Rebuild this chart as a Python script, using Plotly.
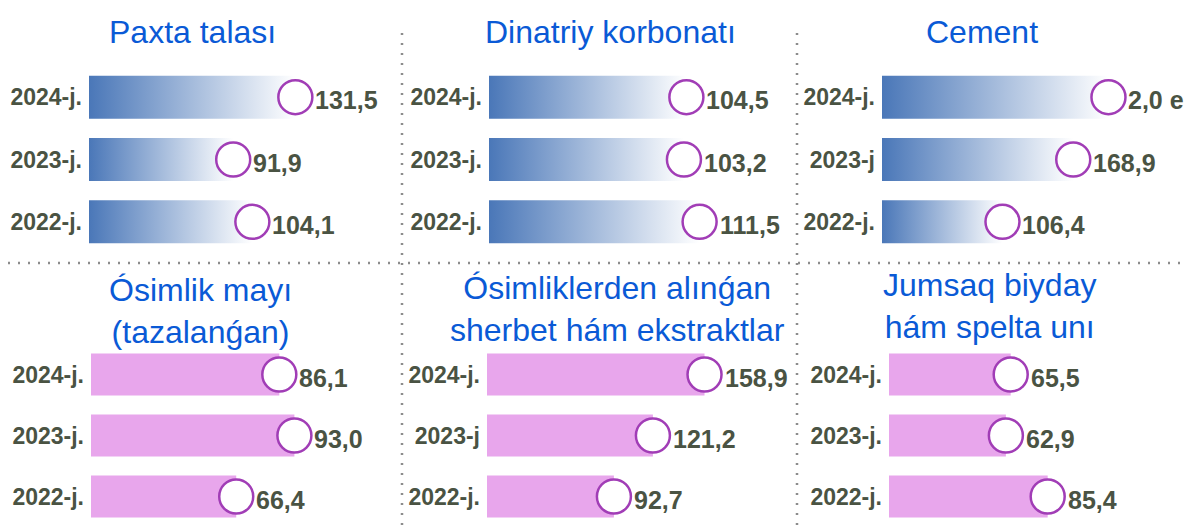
import plotly.graph_objects as go

# ---------------- data ----------------
titles = [
    "Paxta talası",
    "Dinatriy korbonatı",
    "Cement",
    "Ósimlik mayı<br>(tazalanǵan)",
    "Ósimliklerden alınǵan<br>sherbet hám ekstraktlar",
    "Jumsaq biyday<br>hám spelta unı",
]
year_labels = [
    ["2024-j.", "2023-j.", "2022-j."],
    ["2024-j.", "2023-j.", "2022-j."],
    ["2024-j.", "2023-j", "2022-j."],
    ["2024-j.", "2023-j.", "2022-j."],
    ["2024-j.", "2023-j", "2022-j."],
    ["2024-j.", "2023-j.", "2022-j."],
]
paxta = [131.5, 91.9, 104.1]
dinatriy = [104.5, 103.2, 111.5]
cement = [200.0, 168.9, 106.4]
osimlik_mayi = [86.1, 93.0, 66.4]
sherbet = [158.9, 121.2, 92.7]
un = [65.5, 62.9, 85.4]
cement_labels = ["2,0 e", "168,9", "106,4"]

values = [paxta, dinatriy, cement, osimlik_mayi, sherbet, un]


def fmt(v):
    return f"{v:.1f}".replace(".", ",")


value_labels = [
    [fmt(v) for v in paxta],
    [fmt(v) for v in dinatriy],
    cement_labels,
    [fmt(v) for v in osimlik_mayi],
    [fmt(v) for v in sherbet],
    [fmt(v) for v in un],
]

# ---------------- style / layout ----------------
W, H = 1195, 527
OFF = 8  # page body margin offset
BLUE_START = "#4a77b8"
PINK = "#e8a6ec"
CIRCLE = "#a13db6"
TXT = "#4a5343"
TITLE = "#0a5ad6"
BOLD = "Liberation Sans, Arial, sans-serif"
SANS = "Liberation Sans, Arial, sans-serif"


def px(x):
    return (x - OFF) / W


def py(y):
    return 1 - (y - OFF) / H


# pixel layout of each panel (reference coords): (x_left, x_right, y_top, y_bottom)
panel_px = [
    (89, 395, 66, 253),
    (489, 795, 66, 253),
    (882, 1190, 66, 253),
    (91, 395, 344, 527),
    (487, 795, 344, 527),
    (889, 1190, 344, 527),
]
x_max = [195, 162, 272, 139, 225, 162]
title_pos = [(192, 32), (610, 32), (982, 32), (200, 311), (617, 309), (990, 306)]

ypos = [2, 1, 0]  # 2024 top, 2022 bottom
HALF = 0.345

fig = go.Figure()
annotations = []

for p in range(6):
    ax = "" if p == 0 else str(p + 1)
    xref, yref = "x" + ax, "y" + ax
    vals = values[p]
    gradient = p < 3

    for i, v in enumerate(vals):
        y = ypos[i]
        if gradient:
            fig.add_trace(go.Scatter(
                x=[0, v, v, 0, 0],
                y=[y - HALF, y - HALF, y + HALF, y + HALF, y - HALF],
                fill="toself", mode="lines", line=dict(width=0),
                fillgradient=dict(type="horizontal",
                                  colorscale=[[0, BLUE_START], [1, "rgba(255,255,255,1)"]]),
                hoverinfo="skip", showlegend=False,
                xaxis=xref, yaxis=yref,
            ))
    if not gradient:
        fig.add_trace(go.Bar(
            x=vals, y=ypos, orientation="h", width=2 * HALF,
            marker=dict(color=PINK, line=dict(width=0)),
            showlegend=False, xaxis=xref, yaxis=yref,
        ))
    fig.add_trace(go.Scatter(
        x=vals, y=ypos, mode="markers",
        marker=dict(size=34, color="white", line=dict(color=CIRCLE, width=2.5)),
        cliponaxis=False, showlegend=False, xaxis=xref, yaxis=yref,
    ))
    for i, v in enumerate(vals):
        annotations.append(dict(
            x=v, y=ypos[i], xref=xref, yref=yref, text=f"<b>{value_labels[p][i]}</b>",
            showarrow=False, xanchor="left", yanchor="middle", xshift=18, yshift=-3,
            font=dict(family=BOLD, size=25, color=TXT),
        ))

    x0, x1, y0, y1 = panel_px[p]
    fig.update_layout(**{
        "xaxis" + ax: dict(domain=[px(x0), px(x1)], range=[0, x_max[p]],
                           showgrid=False, zeroline=False, showticklabels=False,
                           fixedrange=True, automargin=False, anchor=yref),
        "yaxis" + ax: dict(domain=[max(0, py(y1)), py(y0)], range=[-0.5, 2.5],
                           tickvals=ypos, ticktext=[f"<b>{t}</b>" for t in year_labels[p]],
                           tickfont=dict(family=BOLD, size=23, color=TXT),
                           showgrid=False, zeroline=False, ticks="",
                           ticklabelstandoff=6, anchor=xref, fixedrange=True,
                           automargin=False),
    })

    tx, ty = title_pos[p]
    annotations.append(dict(
        x=px(tx), y=py(ty), xref="paper", yref="paper", text=titles[p],
        showarrow=False, xanchor="center", yanchor="middle",
        font=dict(family=SANS, size=32, color=TITLE),
    ))

shapes = []
dot = dict(color="#8c8c8c", width=2.5, dash="2px,8px")
for xv in (402, 797):
    shapes.append(dict(type="line", xref="paper", yref="paper",
                       x0=px(xv), x1=px(xv), y0=0, y1=py(25), line=dot))
shapes.append(dict(type="line", xref="paper", yref="paper",
                   x0=0, x1=1, y0=py(263), y1=py(263), line=dot))

fig.update_layout(
    width=W, height=H,
    margin=dict(l=0, r=0, t=0, b=0),
    paper_bgcolor="white", plot_bgcolor="rgba(0,0,0,0)",
    annotations=annotations, shapes=shapes,
    showlegend=False,
)
fig.write_html("out.html")
